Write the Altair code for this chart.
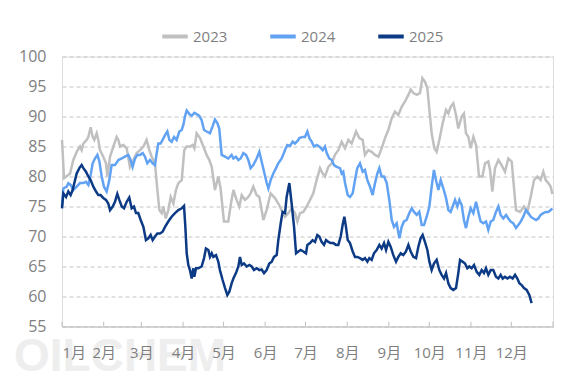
import altair as alt
import pandas as pd

# ---- data (day of year, value) ----
d2023 = [0,1.5,6,8.4,10.9,13.4,14.6,15.9,18.3,19.6,21.3,22.8,24.0,25.8,27.0,28.2,30.7,32.7,33.7,35.7,38.2,40.6,41.9,43.1,45.6,48.1,50.5,53.0,55.5,58.0,60.5,62.9,64.9,66.7,69.1,70.9,72.4,74.1,75.3,77.1,79.0,80.8,82.8,84.7,86.5,89.0,90.9,92.7,95.1,97.1,98.4,100.1,102.6,105.1,107.5,109.5,111.3,113.7,116.2,117.9,120.4,123.6,125.6,127.4,129.8,131.8,133.6,136.0,138.5,140.2,142.2,144.7,146.7,149.7,152.1,155.1,158.3,160.8,163.3,165.8,168.2,170.7,173.2,175.0,176.9,179.4,181.9,184.4,186.8,189.3,191.8,193.8,195.5,198.0,200.5,202.9,205.4,207.9,210.4,212.9,215.3,218.6,221.0,223.5,225.2,227.7,230.2,232.7,235.2,237.6,240.1,242.6,245.1,247.5,250.0,252.5,255.0,257.5,259.2,261.2,263.7,266.1,267.9,269.8,271.6,273.1,274.8,276.8,278.5,280.5,283.0,285.5,287.2,288.9,290.9,292.9,294.6,297.1,298.8,300.3,302.1,303.8,305.8,307.8,310.0,312.5,314.5,316.9,318.2,319.9,321.9,324.4,326.8,329.3,331.8,334.3,335.5,337.5,340.5,343.4,345.9,348.4,350.9,353.4,355.8,357.8,359.6,361.5,363.3,364.5]
v2023 = [86.1,79.7,80.5,82.75,84.1,85.0,84.4,85.5,86.1,86.6,88.2,86.6,86.1,87.2,86.1,84.4,83.3,82.2,80.0,83.3,85.0,86.6,86.1,85.0,85.25,84.7,81.6,82.75,83.9,84.4,85.0,86.1,84.4,83.3,82.2,77.75,74.4,73.9,75.0,73.0,74.4,76.6,75.5,77.75,78.9,79.4,84.4,85.0,85.0,85.25,84.7,87.2,86.4,85.0,83.6,82.75,81.6,77.75,80.0,78.0,72.5,72.5,75.5,77.75,76.1,75.0,76.9,76.1,76.6,77.2,78.3,76.9,76.6,72.75,74.4,77.2,76.4,75.5,74.4,73.3,73.9,74.7,73.9,72.5,73.9,74.1,75.0,76.1,77.2,79.4,81.4,80.5,80.0,81.6,82.2,83.6,84.4,85.8,84.7,86.1,85.5,87.5,86.4,86.1,83.6,84.4,84.1,83.6,83.3,84.7,86.4,87.75,89.7,90.8,90.25,91.6,92.5,93.6,94.5,93.9,93.6,93.9,96.4,95.8,94.7,91.1,87.2,84.7,84.1,86.1,88.9,91.1,90.5,91.6,92.2,90.25,88.0,90.0,90.5,87.2,86.6,84.7,86.6,85.25,80.0,80.0,82.2,82.5,81.1,77.5,81.4,82.75,81.9,80.8,83.0,82.5,79.4,74.4,74.1,75.0,74.1,76.6,79.4,80.0,79.4,80.8,79.4,78.9,78.3,77.1]

d2024 = [0,1.0,3.5,4.7,6.4,8.4,10.9,13.4,15.9,17.8,19.6,21.3,22.8,24.5,26.3,27.8,29.5,31.2,33.2,35.2,36.9,39.4,41.9,44.4,46.8,49.3,51.0,52.5,54.3,56.0,58.0,60.0,61.7,63.4,65.4,67.4,69.1,70.4,71.6,73.3,74.8,76.6,78.3,79.8,81.5,83.3,85.2,87.2,89.0,90.2,91.4,92.7,94.7,96.4,98.4,100.1,102.1,103.8,105.6,107.5,110.0,112.0,113.7,115.5,116.9,118.7,121.2,123.6,126.1,127.4,129.3,131.1,132.8,134.8,136.8,138.5,140.2,142.2,144.7,146.7,148.4,150.2,152.1,153.4,155.1,157.1,159.1,160.8,163.3,165.8,167.5,169.5,171.5,173.2,175.7,176.4,178.9,180.6,182.4,183.9,185.6,187.3,189.3,191.3,193.8,195.5,196.8,198.7,200.5,202.2,204.2,206.7,207.9,209.1,210.4,212.4,214.1,216.1,217.8,219.5,221.5,223.5,225.2,227.0,229.0,230.9,232.7,234.4,235.9,237.6,239.4,241.4,243.3,245.1,246.8,248.8,250.8,252.5,254.2,256.2,258.2,260.0,261.7,263.7,265.6,267.4,269.1,271.1,273.1,274.8,276.5,278.0,279.8,281.5,283.5,285.5,287.2,288.9,290.4,292.2,293.9,295.4,297.1,298.8,300.3,302.1,303.8,305.8,307.8,309.5,311.2,313.2,315.2,316.9,318.7,320.6,322.6,324.4,326.1,328.1,330.1,331.8,333.5,335.5,337.5,339.2,341.0,342.9,344.9,346.7,348.4,350.4,352.4,354.1,355.8,357.8,359.8,361.5,363.3,364.5]
v2024 = [75.0,78.0,78.3,78.9,78.6,77.75,78.3,78.9,78.9,79.1,78.6,80.25,82.2,83.0,83.6,82.5,80.0,78.3,77.5,79.4,81.9,81.9,82.75,83.0,83.3,83.6,82.75,81.6,83.0,83.6,83.6,83.9,83.3,82.2,82.75,82.2,81.9,83.9,85.5,85.5,86.1,86.9,87.5,86.1,85.8,86.6,86.1,87.5,87.75,88.6,90.0,91.0,90.4,90.1,90.6,90.4,90.1,89.4,87.75,87.5,87.2,88.4,89.5,88.9,88.0,83.6,83.3,83.0,83.6,83.0,83.3,82.75,83.0,83.9,83.6,82.75,81.4,81.9,83.0,84.1,82.5,80.8,79.0,78.0,79.4,80.5,81.4,82.2,83.0,84.4,85.25,85.1,85.8,85.5,86.1,86.4,86.6,86.6,87.5,86.4,85.8,85.0,85.25,85.0,84.4,85.0,83.9,83.0,82.75,81.9,81.6,81.4,80.5,80.8,78.9,76.9,76.6,77.2,79.4,81.4,82.2,80.8,81.1,79.4,78.3,76.9,78.9,80.5,81.4,80.0,80.0,78.9,76.1,72.75,71.6,72.2,69.7,71.6,72.5,72.75,73.9,74.7,74.1,73.6,74.1,71.9,71.9,73.3,75.0,78.3,81.1,79.4,77.75,79.4,78.0,76.4,74.4,74.1,75.0,76.1,75.0,76.1,75.25,72.75,71.4,73.3,74.7,73.9,75.8,74.1,72.5,72.2,72.5,71.1,72.5,72.75,74.1,75.0,73.6,73.0,73.6,73.0,72.5,72.2,71.4,71.9,72.5,73.3,74.4,73.9,73.3,73.0,72.75,73.0,73.6,73.9,74.1,74.1,74.4,74.7]

d2025 = [0,1.0,3.0,4.7,6.4,7.9,9.7,10.9,12.9,14.6,15.9,17.8,19.6,21.3,23.3,25.3,27.0,28.7,30.7,32.7,34.4,35.7,37.7,39.4,41.1,42.6,44.4,46.1,48.1,50.0,51.8,53.5,55.0,56.7,58.5,60.5,62.4,64.2,65.9,67.4,69.1,70.9,72.8,74.8,76.6,79.0,81.5,84.0,86.5,89.0,90.7,91.7,92.7,93.9,95.1,96.4,97.6,98.4,99.6,101.3,103.8,105.6,107.0,108.8,110.0,111.3,112.5,114.5,116.2,117.4,119.4,121.2,122.9,124.4,126.1,127.4,129.3,131.1,132.3,133.6,135.3,137.3,139.3,141.0,142.7,144.7,146.7,148.4,150.2,152.1,154.1,155.9,157.6,159.6,160.8,162.6,164.0,165.8,167.0,169.0,170.7,172.5,174.0,175.7,177.4,179.4,181.4,182.4,184.4,186.3,188.1,189.8,191.3,193.0,194.8,196.3,198.0,199.7,201.7,203.7,205.4,207.2,208.6,209.9,211.1,212.4,214.1,216.1,217.8,219.5,221.5,223.5,225.2,227.0,228.5,230.2,231.9,233.9,235.9,237.6,239.4,240.9,242.6,244.3,246.3,248.3,250.0,251.8,253.7,255.7,257.5,259.2,261.2,263.2,264.9,266.6,268.1,269.8,271.6,273.1,274.8,276.5,278.5,280.5,282.2,284.0,285.5,287.2,288.9,290.9,292.9,294.6,295.9,297.9,299.6,301.3,302.8,304.5,306.3,308.3,310.2,312.0,313.7,315.2,316.9,318.7,320.6,322.6,324.4,326.1,327.6,329.3,331.1,333.0,335.0,336.8,338.5,340.0,341.7,343.4,345.4,347.4,349.1]
v2025 = [74.7,77.2,76.6,77.5,76.9,77.75,79.4,80.5,81.4,81.9,81.4,80.8,80.0,79.4,78.3,77.5,76.9,76.9,76.4,76.1,75.5,74.4,75.0,75.8,77.1,76.1,75.0,74.7,75.8,76.5,74.7,75.0,73.9,73.9,72.75,71.6,69.4,69.7,70.25,69.4,70.0,70.5,70.5,70.8,71.6,72.5,73.3,73.9,74.4,74.7,75.1,71.6,67.2,65.25,64.4,63.0,64.7,63.3,64.7,64.7,65.0,66.4,68.0,67.75,66.6,67.2,66.6,66.9,65.8,64.4,62.75,61.4,60.25,60.8,62.2,63.0,63.9,65.0,66.6,65.25,65.5,65.0,65.25,65.0,64.4,64.7,64.4,64.5,63.9,64.4,65.5,65.8,66.6,66.9,69.4,72.2,74.1,73.9,76.6,78.9,75.5,71.6,67.2,67.5,67.75,67.5,67.2,68.6,68.9,69.4,69.1,70.25,70.0,69.1,68.6,69.4,69.1,68.9,68.9,68.6,68.6,70.0,71.9,73.3,71.6,69.4,68.9,67.5,66.6,66.6,66.4,66.1,66.4,65.8,66.4,66.1,67.2,67.75,68.6,68.0,68.9,67.75,69.1,68.3,66.9,65.8,66.6,67.2,66.9,67.5,68.6,67.5,66.6,66.4,68.3,69.7,70.25,69.1,67.75,65.8,64.4,65.5,66.1,64.4,63.6,63.0,63.9,62.2,61.4,61.1,61.4,63.9,66.1,65.8,65.5,64.7,65.0,64.7,65.25,64.1,63.6,64.4,63.9,64.7,63.6,64.4,64.4,63.3,63.0,63.6,63.0,63.3,63.0,63.3,63.0,63.6,63.0,62.2,61.9,61.4,61.1,60.25,58.9]

years = ["2023", "2024", "2025"]
colors = ["#c0c0c0", "#62a2f3", "#0c3a85"]
month_starts = [0, 31, 59, 90, 120, 151, 181, 212, 243, 273, 304, 334, 365]
y_ticks = [55, 60, 65, 70, 75, 80, 85, 90, 95, 100]

rows = []
for yr, ds, vs in zip(years, [d2023, d2024, d2025], [v2023, v2024, v2025]):
    for d, v in zip(ds, vs):
        rows.append({"year": yr, "day": d, "value": v})
df = pd.DataFrame(rows)
ticks_df = pd.DataFrame({"day": month_starts, "value": [55] * len(month_starts), "y1": [55.8] * len(month_starts)})

FONT = "Open Sans, Noto Sans CJK SC, sans-serif"
ms = ",".join(str(m) for m in month_starts[:-1])
label_expr = f"indexof([{ms}], datum.value) >= 0 ? (indexof([{ms}], datum.value) + 1) + '月' : ''"

x_scale = alt.Scale(domain=[0, 365], nice=False, zero=False)
y_scale = alt.Scale(domain=[55, 100], nice=False, zero=False)

x_axis = alt.Axis(values=month_starts, labelExpr=label_expr, title=None, grid=False,
                  ticks=False, domainColor="#bfbfbf", domainWidth=1,
                  labelFont=FONT, labelFontSize=15, labelColor="#7f7f7f",
                  labelPadding=19, labelAngle=0, labelOverlap=False, zindex=1)
y_axis = alt.Axis(values=y_ticks, title=None, domain=False, ticks=False,
                  grid=True, gridDash=[4, 3], gridColor="#c4c4c4", gridWidth=1,
                  labelFont=FONT, labelFontSize=16, labelColor="#7f7f7f",
                  labelPadding=16, labelOverlap=False, labelBound=False)

lines = alt.Chart(df).mark_line(strokeWidth=2.5, interpolate="linear").encode(
    x=alt.X("day:Q", scale=x_scale, axis=x_axis),
    y=alt.Y("value:Q", scale=y_scale, axis=y_axis),
    color=alt.Color("year:N", scale=alt.Scale(domain=years, range=colors),
                    legend=alt.Legend(orient="none", legendX=98, legendY=-35, direction="horizontal",
                                      title=None, symbolType="stroke", symbolSize=650,
                                      symbolStrokeWidth=4, labelFont=FONT, labelFontSize=15,
                                      labelColor="#7f7f7f", columnPadding=34, labelOffset=3)),
    order=alt.Order("day:Q"),
)

tick_marks = alt.Chart(ticks_df).mark_rule(color="#bfbfbf", strokeWidth=1).encode(
    x=alt.X("day:Q", scale=x_scale, axis=x_axis),
    y=alt.Y("value:Q", scale=y_scale, axis=y_axis),
    y2="y1:Q",
)

watermark = alt.Chart(pd.DataFrame({"t": ["OILCHEM"]})).mark_text(
    font="Liberation Sans", fontSize=46, fontWeight="bold", color="#eeeeee",
    align="left", baseline="alphabetic",
).encode(text="t:N", x=alt.value(-48), y=alt.value(314))

chart = alt.layer(watermark, tick_marks, lines).properties(
    width=491, height=270,
    autosize="none",
    padding={"left": 54, "top": 48.5, "right": 6, "bottom": 44},
).configure_view(stroke=None).configure(background="white")

chart.save("out.html", embed_options={"renderer": "svg", "actions": False})
